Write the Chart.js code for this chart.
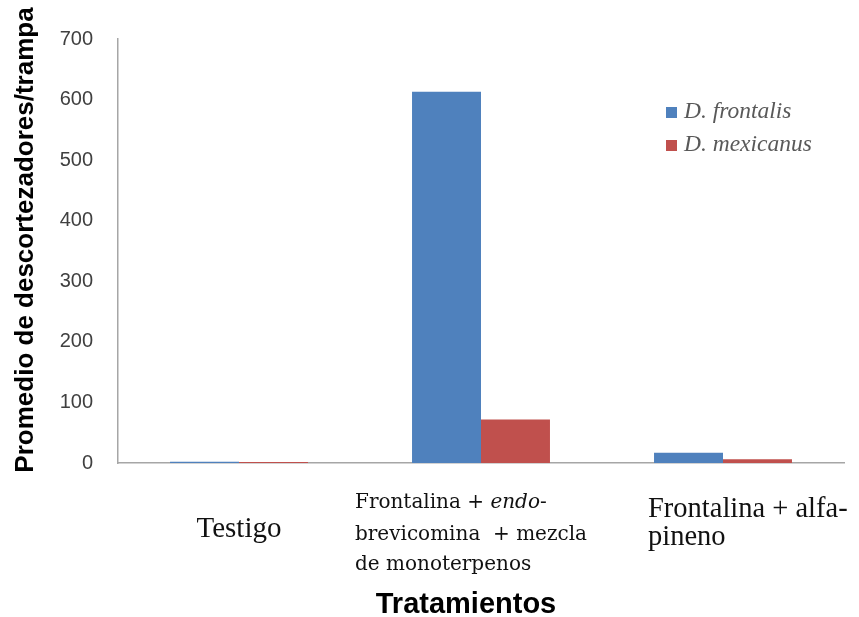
<!DOCTYPE html>
<html>
<head>
<meta charset="utf-8">
<script src="https://cdn.jsdelivr.net/npm/chart.js@4/dist/chart.umd.min.js"></script>
<style>
  html, body { margin: 0; padding: 0; background: #ffffff; }
  #wrap { width: 859px; height: 617px; }
</style>
</head>
<body>
<div id="wrap"><canvas id="c" width="859" height="617"></canvas></div>
<script>
// ---- Data ----
const categories = ["Testigo", "Frontalina + endo-brevicomina + mezcla de monoterpenos", "Frontalina + alfa-pineno"];
const seriesNames = ["D. frontalis", "D. mexicanus"];
const frontalisValues = [2, 613, 17];
const mexicanusValues = [1.5, 72, 6];
const yTicks = [0, 100, 200, 300, 400, 500, 600, 700];
const yTitle = "Promedio de descortezadores/trampa";
const xTitle = "Tratamientos";
// Category label lines: each segment [text, italic]
const categoryLabelLines = [
  [[["Testigo", false]]],
  [[["Frontalina + ", false], ["endo", true], ["-", false]],
   [["brevicomina  + mezcla", false]],
   [["de monoterpenos", false]]],
  [[["Frontalina + alfa-", false]],
   [["pineno", false]]]
];

const BLUE = "#4F81BD";
const RED = "#C0504D";

const textPlugin = {
  id: "textPlugin",
  afterDraw(chart) {
    const ctx = chart.ctx;
    const xs = chart.scales.x;
    ctx.save();

    // Y title
    ctx.save();
    ctx.translate(33, 240);
    ctx.rotate(-Math.PI / 2);
    ctx.font = "bold 26px 'Liberation Sans', Arial, sans-serif";
    ctx.fillStyle = "#000000";
    ctx.textAlign = "center";
    ctx.textBaseline = "alphabetic";
    ctx.fillText(yTitle, 0, 0);
    ctx.restore();

    // X title
    ctx.font = "bold 29px 'Liberation Sans', Arial, sans-serif";
    ctx.fillStyle = "#000000";
    ctx.textAlign = "center";
    ctx.textBaseline = "alphabetic";
    ctx.fillText(xTitle, 466, 613);

    // Category labels
    ctx.fillStyle = "#111111";
    ctx.textAlign = "left";
    const drawLine = (segs, x, y, family, size) => {
      let cx = x;
      segs.forEach(([t, it]) => {
        ctx.font = (it ? "italic " : "") + size + "px " + family;
        ctx.fillText(t, cx, y);
        cx += ctx.measureText(t).width;
      });
    };
    const lineWidth = (segs, family, size) => {
      let w = 0;
      segs.forEach(([t, it]) => {
        ctx.font = (it ? "italic " : "") + size + "px " + family;
        w += ctx.measureText(t).width;
      });
      return w;
    };
    const serif = "'Liberation Serif', 'Times New Roman', serif";
    const serif2 = "'DejaVu Serif', serif";
    // Testigo: centered
    {
      const c = xs.getPixelForValue(0);
      const segs = categoryLabelLines[0][0];
      const w = lineWidth(segs, serif, 29);
      drawLine(segs, c - w / 2, 537, serif, 29);
    }
    // Middle label
    {
      const c = xs.getPixelForValue(1);
      const lines = categoryLabelLines[1];
      const bases = [508, 540, 570];
      lines.forEach((segs, i) => drawLine(segs, c - 126, bases[i], serif2, 20));
    }
    // Third label
    {
      const c = xs.getPixelForValue(2);
      const lines = categoryLabelLines[2];
      const bases = [517, 545];
      lines.forEach((segs, i) => drawLine(segs, c - 75, bases[i], serif, 28.5));
    }

    // Legend
    const legendY = [112, 145];
    chart.data.datasets.forEach((ds, i) => {
      ctx.fillStyle = ds.backgroundColor;
      ctx.fillRect(666, legendY[i] - 5, 11, 11);
      ctx.fillStyle = "#595959";
      ctx.font = "italic 23.5px " + serif;
      ctx.textBaseline = "alphabetic";
      ctx.fillText(ds.label, 684, legendY[i] + 6);
    });

    ctx.restore();
  }
};

new Chart(document.getElementById("c"), {
  type: "bar",
  data: {
    labels: categories,
    datasets: [
      { label: seriesNames[0], data: frontalisValues, backgroundColor: BLUE, borderWidth: 0 },
      { label: seriesNames[1], data: mexicanusValues, backgroundColor: RED, borderWidth: 0 }
    ]
  },
  options: {
    responsive: false,
    animation: false,
    devicePixelRatio: 1,
    layout: { padding: { top: 39, right: 15, left: 0, bottom: 0 } },
    datasets: { bar: { categoryPercentage: 0.57, barPercentage: 1.0 } },
    plugins: { legend: { display: false }, tooltip: { enabled: false }, title: { display: false } },
    scales: {
      x: {
        grid: { display: false, drawTicks: false },
        border: { display: true, color: "#A6A6A6", width: 1.5 },
        ticks: { display: false },
        afterFit(scale) { scale.height = 617 - 463; }
      },
      y: {
        min: 0,
        max: 700,
        afterBuildTicks(scale) { scale.ticks = yTicks.map(v => ({ value: v })); },
        grid: { display: false, drawTicks: false },
        border: { display: true, color: "#A6A6A6", width: 1.5 },
        ticks: {
          padding: 25,
          color: "#404040",
          font: { family: "'Liberation Sans', Arial, sans-serif", size: 20 }
        },
        afterFit(scale) { scale.width = 118; }
      }
    }
  },
  plugins: [textPlugin]
});
</script>
</body>
</html>
